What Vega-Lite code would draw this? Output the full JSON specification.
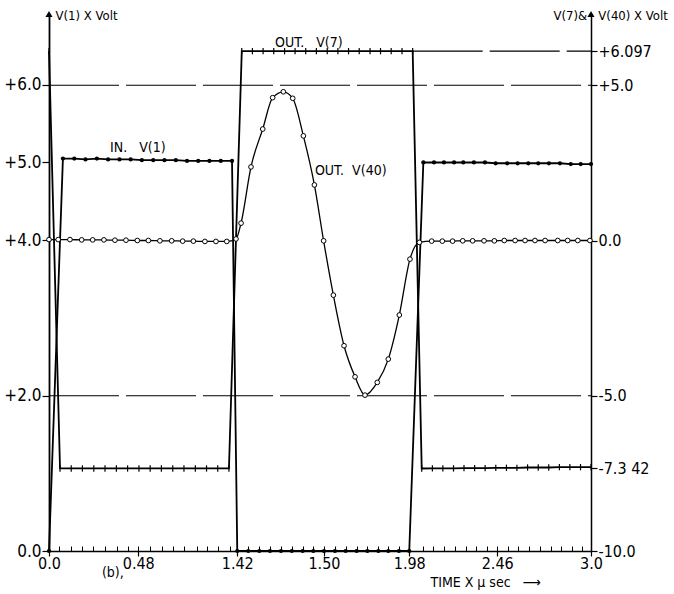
{
  "$schema": "https://vega.github.io/schema/vega-lite/v6.json",
  "width": 542,
  "height": 537,
  "autosize": {"type": "none"},
  "padding": {"left": 49, "top": 14, "right": 83, "bottom": 43},
  "background": "white",
  "config": {
    "view": {"stroke": null},
    "font": "Liberation Sans Narrow, DejaVu Sans Condensed, sans-serif",
    "axis": {"domainColor": "black", "tickColor": "black", "labelColor": "black", "titleColor": "black", "grid": false, "titleFontWeight": "normal", "labelFont": "Liberation Sans Narrow, DejaVu Sans Condensed, sans-serif", "titleFont": "Liberation Sans Narrow, DejaVu Sans Condensed, sans-serif"}
  },
  "datasets": {
    "v1": [
      {"t": 0, "v": 0},
      {"t": 0.077, "v": 5.05}, {"t": 0.140, "v": 5.05}, {"t": 0.202, "v": 5.04}, {"t": 0.265, "v": 5.05}, {"t": 0.327, "v": 5.04}, {"t": 0.390, "v": 5.04}, {"t": 0.452, "v": 5.04}, {"t": 0.514, "v": 5.03}, {"t": 0.577, "v": 5.03}, {"t": 0.639, "v": 5.03}, {"t": 0.702, "v": 5.03}, {"t": 0.764, "v": 5.02}, {"t": 0.826, "v": 5.02}, {"t": 0.888, "v": 5.02}, {"t": 0.951, "v": 5.02}, {"t": 1.013, "v": 5.02},
      {"t": 1.042, "v": 0}, {"t": 1.103, "v": 0}, {"t": 1.164, "v": 0}, {"t": 1.223, "v": 0}, {"t": 1.284, "v": 0}, {"t": 1.344, "v": 0}, {"t": 1.404, "v": 0}, {"t": 1.463, "v": 0}, {"t": 1.522, "v": 0}, {"t": 1.583, "v": 0}, {"t": 1.642, "v": 0}, {"t": 1.703, "v": 0}, {"t": 1.762, "v": 0}, {"t": 1.823, "v": 0}, {"t": 1.878, "v": 0}, {"t": 1.937, "v": 0}, {"t": 1.994, "v": 0},
      {"t": 2.072, "v": 5.0}, {"t": 2.131, "v": 5.0}, {"t": 2.186, "v": 5.0}, {"t": 2.242, "v": 5.0}, {"t": 2.293, "v": 5.0}, {"t": 2.352, "v": 5.0}, {"t": 2.413, "v": 5.0}, {"t": 2.472, "v": 4.99}, {"t": 2.536, "v": 4.99}, {"t": 2.594, "v": 4.99}, {"t": 2.653, "v": 4.99}, {"t": 2.708, "v": 4.99}, {"t": 2.767, "v": 4.99}, {"t": 2.828, "v": 4.99}, {"t": 2.888, "v": 4.98}, {"t": 2.943, "v": 4.98}, {"t": 3.0, "v": 4.98}
    ],
    "v7": [
      {"t": 0, "v": 6.097},
      {"t": 0.061, "v": -7.342}, {"t": 0.123, "v": -7.342}, {"t": 0.185, "v": -7.342}, {"t": 0.248, "v": -7.342}, {"t": 0.310, "v": -7.342}, {"t": 0.373, "v": -7.342}, {"t": 0.435, "v": -7.342}, {"t": 0.498, "v": -7.342}, {"t": 0.560, "v": -7.342}, {"t": 0.622, "v": -7.342}, {"t": 0.685, "v": -7.342}, {"t": 0.747, "v": -7.342}, {"t": 0.810, "v": -7.342}, {"t": 0.872, "v": -7.342}, {"t": 0.934, "v": -7.342}, {"t": 0.996, "v": -7.342},
      {"t": 1.067, "v": 6.097}, {"t": 1.126, "v": 6.097}, {"t": 1.185, "v": 6.097}, {"t": 1.244, "v": 6.097}, {"t": 1.304, "v": 6.097}, {"t": 1.362, "v": 6.097}, {"t": 1.421, "v": 6.097}, {"t": 1.480, "v": 6.097}, {"t": 1.540, "v": 6.097}, {"t": 1.599, "v": 6.097}, {"t": 1.658, "v": 6.097}, {"t": 1.717, "v": 6.097}, {"t": 1.777, "v": 6.097}, {"t": 1.835, "v": 6.097}, {"t": 1.894, "v": 6.097}, {"t": 1.954, "v": 6.097}, {"t": 2.013, "v": 6.097},
      {"t": 2.063, "v": -7.342}, {"t": 2.122, "v": -7.34}, {"t": 2.180, "v": -7.34}, {"t": 2.239, "v": -7.34}, {"t": 2.297, "v": -7.33}, {"t": 2.356, "v": -7.33}, {"t": 2.414, "v": -7.33}, {"t": 2.473, "v": -7.32}, {"t": 2.532, "v": -7.32}, {"t": 2.590, "v": -7.32}, {"t": 2.649, "v": -7.31}, {"t": 2.708, "v": -7.31}, {"t": 2.766, "v": -7.31}, {"t": 2.825, "v": -7.30}, {"t": 2.883, "v": -7.30}, {"t": 2.942, "v": -7.30}, {"t": 3.0, "v": -7.30}
    ],
    "v40": [
      {"t": 0, "v": 0.03}, {"t": 0.051, "v": 0.03}, {"t": 0.116, "v": 0.03}, {"t": 0.181, "v": 0.02}, {"t": 0.242, "v": 0.02}, {"t": 0.304, "v": 0.02}, {"t": 0.365, "v": 0.01}, {"t": 0.426, "v": 0.01}, {"t": 0.489, "v": 0.0}, {"t": 0.550, "v": 0.0}, {"t": 0.614, "v": -0.01}, {"t": 0.679, "v": -0.01}, {"t": 0.740, "v": -0.02}, {"t": 0.799, "v": -0.02}, {"t": 0.863, "v": -0.03}, {"t": 0.924, "v": -0.03}, {"t": 0.984, "v": -0.03}, {"t": 1.035, "v": 0.05},
      {"t": 1.063, "v": 0.56}, {"t": 1.118, "v": 2.37}, {"t": 1.183, "v": 3.59}, {"t": 1.238, "v": 4.60}, {"t": 1.297, "v": 4.79}, {"t": 1.349, "v": 4.58}, {"t": 1.408, "v": 3.37}, {"t": 1.469, "v": 1.79}, {"t": 1.520, "v": -0.01}, {"t": 1.574, "v": -1.76}, {"t": 1.633, "v": -3.39}, {"t": 1.694, "v": -4.39}, {"t": 1.749, "v": -4.98}, {"t": 1.817, "v": -4.57}, {"t": 1.878, "v": -3.82}, {"t": 1.939, "v": -2.40}, {"t": 1.998, "v": -0.60}, {"t": 2.050, "v": -0.06},
      {"t": 2.118, "v": -0.02}, {"t": 2.177, "v": -0.02}, {"t": 2.234, "v": -0.02}, {"t": 2.290, "v": -0.01}, {"t": 2.345, "v": -0.01}, {"t": 2.408, "v": -0.01}, {"t": 2.465, "v": -0.01}, {"t": 2.520, "v": 0.0}, {"t": 2.580, "v": 0.0}, {"t": 2.635, "v": 0.0}, {"t": 2.690, "v": 0.0}, {"t": 2.746, "v": 0.0}, {"t": 2.816, "v": 0.0}, {"t": 2.871, "v": 0.0}, {"t": 2.927, "v": 0.0}, {"t": 2.994, "v": 0.0}
    ],
    "grid": [
      {"t": 0, "t2": 3, "v": 5.0},
      {"t": 0, "t2": 3, "v": -5.0},
      {"t": 2.013, "t2": 3, "v": 6.097}
    ],
    "notesL": [
      {"t": 0.338, "v": 5.19, "label": "IN.\u00a0\u00a0\u00a0V(1)"},
      {"t": 0.293, "v": -0.283, "label": "(b),"}
    ],
    "notesR": [
      {"t": 1.251, "v": 6.36, "label": "OUT.\u00a0\u00a0\u00a0V(7)"},
      {"t": 1.472, "v": 2.24, "label": "OUT.\u00a0\u00a0V(40)"}
    ],
    "arrows": [
      {"t": 0, "v": 6.911},
      {"t": 3, "v": 6.911}
    ]
  },
  "layer": [
    {
      "encoding": {
        "x": {"field": "t", "type": "quantitative", "scale": {"domain": [0, 3], "nice": false, "zero": false},
          "axis": {"orient": "bottom", "values": [0, 0.494, 1.042, 1.522, 1.994, 2.481, 3.0], "tickSize": 5, "tickWidth": 1.2, "domainWidth": 1.5, "labelPadding": -1, "labelFontSize": 16, "labelFlush": false,
            "labelExpr": "datum.value < 0.2 ? '0.0' : datum.value < 0.8 ? '0.48' : datum.value < 1.3 ? '1.42' : datum.value < 1.8 ? '1.50' : datum.value < 2.2 ? '1.98' : datum.value < 2.7 ? '2.46' : '3.0'",
            "title": "TIME X\u00a0\u03bc\u00a0sec\u00a0\u00a0\u00a0\u27f6", "titleFontSize": 14, "titleAlign": "left", "titleBaseline": "middle", "titleX": 381, "titleY": 31, "titleAngle": 0}},
        "y": {"field": "v", "type": "quantitative", "scale": {"domain": [0, 6.911], "nice": false, "zero": false},
          "axis": {"orient": "left", "values": [0, 2, 4, 5, 6], "tickSize": 7, "tickWidth": 1.2, "domainWidth": 1.8, "labelPadding": 1, "labelFontSize": 17,
            "labelExpr": "datum.value == 0 ? '0.0' : '+' + format(datum.value, '.1f')",
            "title": "V(1) X Volt", "titleFontSize": 13, "titleAngle": 0, "titleAlign": "left", "titleBaseline": "middle", "titleX": 6, "titleY": 1}}
      },
      "layer": [
        {"data": {"name": "v1"}, "mark": {"type": "line", "color": "black", "strokeWidth": 1.8}},
        {"data": {"name": "v1"}, "mark": {"type": "point", "filled": true, "color": "black", "size": 18, "opacity": 1}},
        {"data": {"name": "arrows"}, "mark": {"type": "point", "shape": "triangle-up", "filled": true, "color": "black", "size": 50, "opacity": 1}},
        {"data": {"name": "notesL"}, "mark": {"type": "text", "align": "left", "baseline": "middle", "fontSize": 14, "color": "black"}, "encoding": {"text": {"field": "label"}}}
      ]
    },
    {
      "encoding": {
        "x": {"field": "t", "type": "quantitative", "scale": {"domain": [0, 3], "nice": false, "zero": false},
          "axis": {"orient": "bottom", "labels": false, "domain": false, "tickSize": -5, "tickWidth": 1, "title": null,
            "values": [0.057, 0.120, 0.181, 0.245, 0.310, 0.375, 0.436, 0.494, 0.559, 0.624, 0.688, 0.749, 0.818, 0.876, 0.937, 1.001, 1.042, 1.103, 1.164, 1.223, 1.284, 1.344, 1.404, 1.463, 1.522, 1.583, 1.642, 1.703, 1.762, 1.823, 1.878, 1.937, 1.994, 2.072, 2.127, 2.186, 2.247, 2.306, 2.363, 2.423, 2.481, 2.542, 2.598, 2.658, 2.718, 2.777, 2.834, 2.893, 2.952]}},
        "y": {"field": "v", "type": "quantitative", "scale": {"domain": [-10, 7.295], "nice": false, "zero": false},
          "axis": {"orient": "right", "values": [-10, -7.342, -5, 0, 5, 6.097], "tickSize": 6, "tickWidth": 1.2, "domainWidth": 1.5, "labelPadding": 1, "labelFontSize": 16,
            "labelExpr": "datum.value > 6 ? '+6.097' : datum.value > 4 ? '+5.0' : datum.value > -1 ? '0.0' : datum.value > -6 ? '-5.0' : datum.value > -8 ? '-7.3 42' : '-10.0'",
            "title": "V(7)&\u00a0\u00a0\u00a0V(40) X Volt", "titleFontSize": 13, "titleAngle": 0, "titleAlign": "left", "titleBaseline": "middle", "titleX": -38, "titleY": 1}}
      },
      "layer": [
        {"data": {"name": "grid"}, "mark": {"type": "rule", "color": "black", "strokeWidth": 1.2, "strokeDash": [70, 7]}, "encoding": {"x2": {"field": "t2"}}},
        {"data": {"name": "v7"}, "mark": {"type": "line", "color": "black", "strokeWidth": 1.8}},
        {"data": {"name": "v7"}, "mark": {"type": "point", "shape": "M0,-1L0,1", "filled": false, "color": "black", "strokeWidth": 1.2, "size": 40, "opacity": 1}},
        {"data": {"name": "v40"}, "mark": {"type": "line", "color": "black", "strokeWidth": 1.3, "interpolate": "monotone"}},
        {"data": {"name": "v40"}, "mark": {"type": "point", "filled": true, "fill": "white", "stroke": "black", "strokeWidth": 1, "size": 22, "opacity": 1}},
        {"data": {"name": "notesR"}, "mark": {"type": "text", "align": "left", "baseline": "middle", "fontSize": 14, "color": "black"}, "encoding": {"text": {"field": "label"}}}
      ]
    }
  ],
  "resolve": {"scale": {"y": "independent"}, "axis": {"x": "independent"}}
}
